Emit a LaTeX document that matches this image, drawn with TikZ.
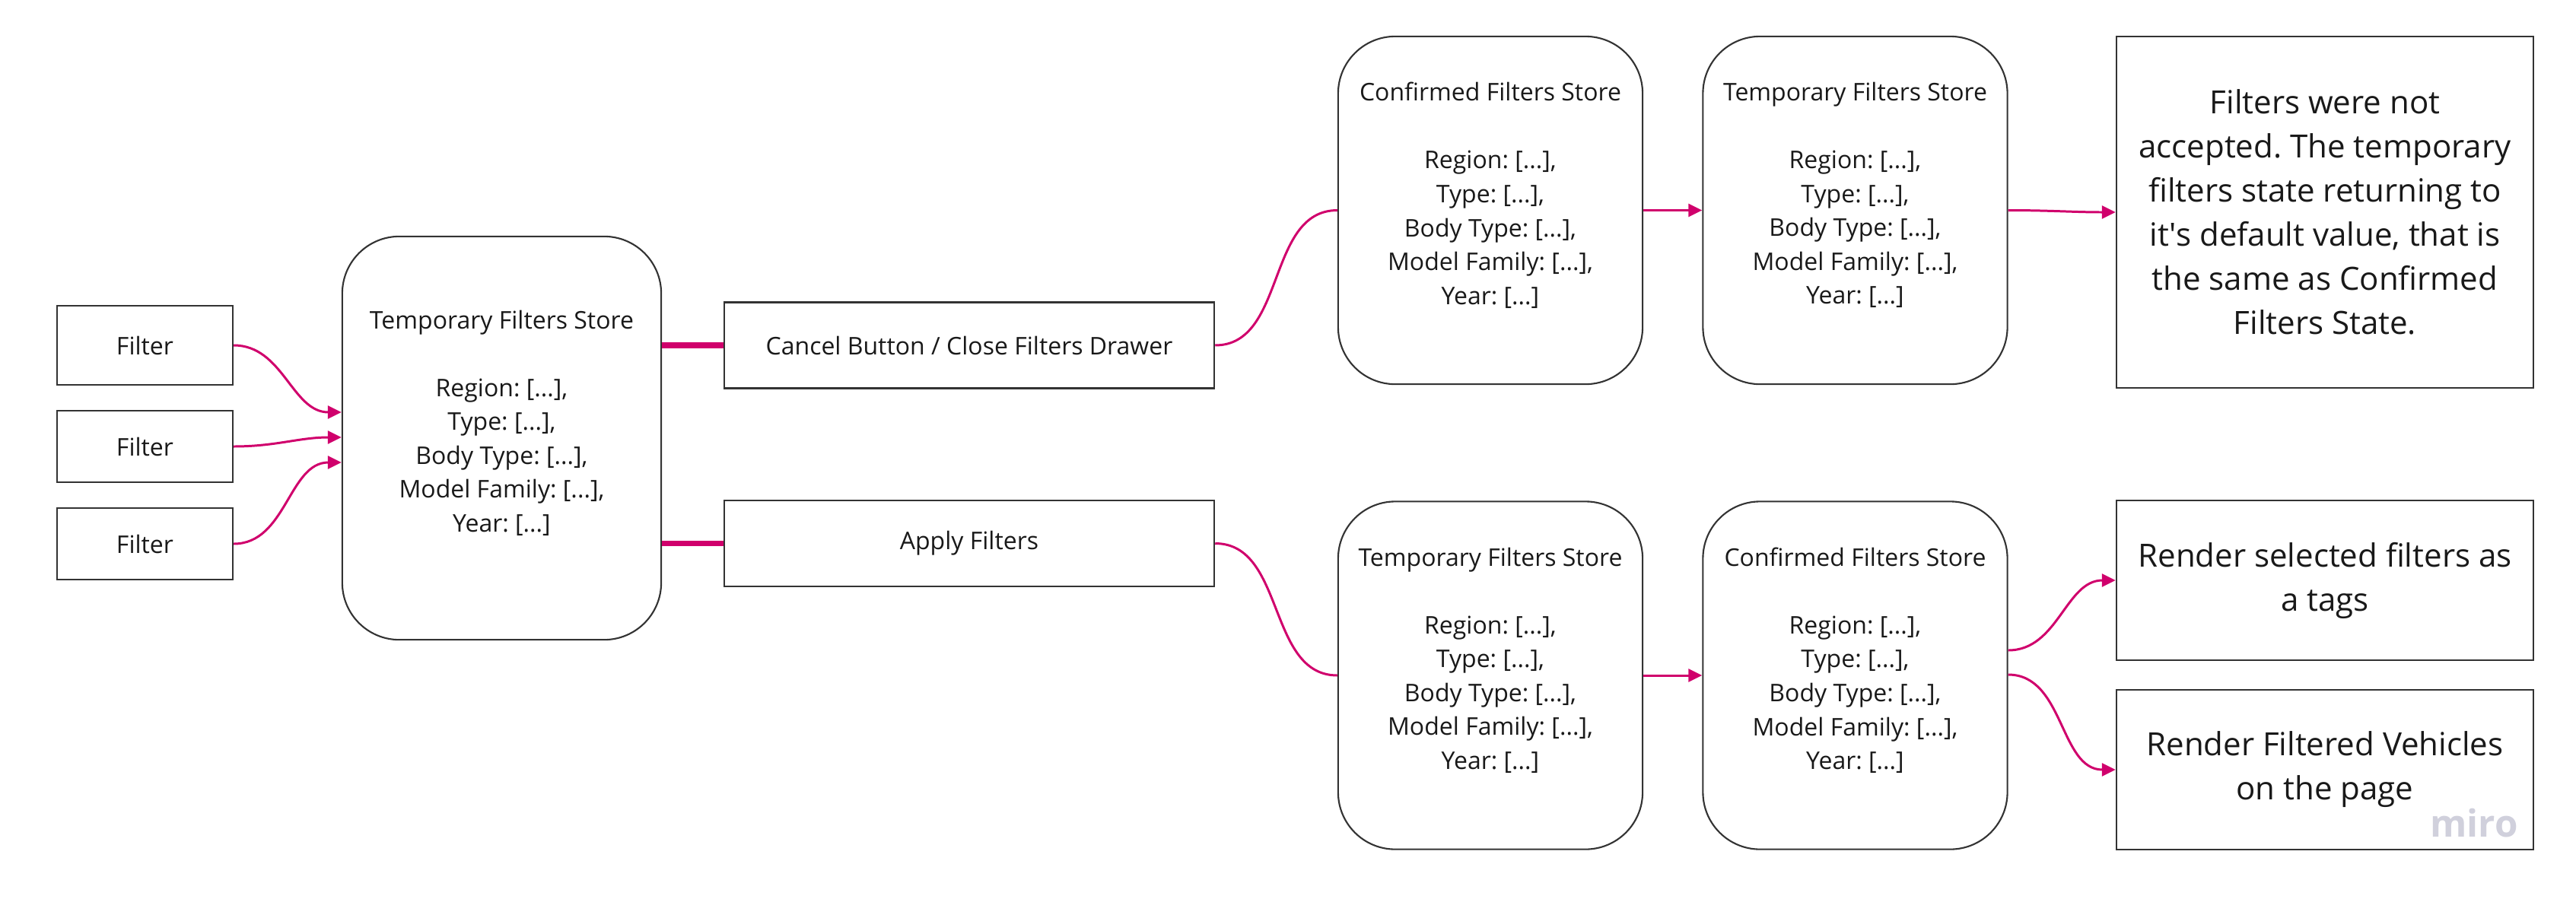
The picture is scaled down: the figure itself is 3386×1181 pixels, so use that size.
\documentclass[tikz,border=0pt]{standalone}
\usepackage{fontspec}
\setmainfont{Open Sans}
\usepackage{xcolor}
\usepackage{tikz}
\usetikzlibrary{shapes,arrows.meta,positioning}
\usetikzlibrary{calc}
\definecolor{miroPink}{RGB}{208,0,108}
\definecolor{miroLine}{RGB}{51,51,51}
\definecolor{miroGray}{RGB}{208,208,220}
\newcommand{\boxfont}{\fontsize{9.1pt}{12.66pt}\selectfont}
\newcommand{\notefont}{\fontsize{11.95pt}{16.5pt}\selectfont}
\newcommand{\storetext}[1]{#1\\~\\Region: [...],\\Type: [...],\\Body Type: [...],\\Model Family: [...],\\Year: [...]\\~}
\frenchspacing

\begin{document}
\begin{tikzpicture}
  [
    x=0.01cm, y=-0.01cm,
    Box/.style={rectangle, draw=miroLine, line width=0.6pt, fill=white, inner sep=0pt, align=center, text=black!90, font=\boxfont},
    Store/.style={Box, rounded corners=0.75cm, minimum width=4cm, minimum height=4.57cm},
    Note/.style={Box, font=\notefont, minimum width=5.48cm},
    Link/.style={draw=miroPink, line width=0.85pt},
    Arrow/.style={Link, -{Triangle[length=0.18cm, width=0.17cm]}},
    Bar/.style={draw=miroPink, line width=2.2pt}
  ]
  \useasboundingbox (0,0) rectangle (3386,1181);
  % Nodes
  \node[Box, minimum width=2.31cm, minimum height=1.04cm] (f1) at (190.5,454) {Filter};
  \node[Box, minimum width=2.31cm, minimum height=0.94cm] (f2) at (190.5,587) {Filter};
  \node[Box, minimum width=2.31cm, minimum height=0.94cm] (f3) at (190.5,715) {Filter};
  \node[Store, minimum width=4.19cm, minimum height=5.30cm] (ts) at (659.5,576) {\storetext{Temporary Filters Store}};
  \node[Box, minimum width=6.44cm, minimum height=1.13cm] (cb) at (1274,454) {Cancel Button / Close Filters Drawer};
  \node[Box, minimum width=6.44cm, minimum height=1.13cm] (ab) at (1274,714.5) {Apply Filters};
  \node[Store] (cs1) at (1959,276.5) {\storetext{Confirmed Filters Store}};
  \node[Store] (ts1) at (2438.5,276.5) {\storetext{Temporary Filters Store}};
  \node[Note, minimum height=4.62cm] (nb) at (3056,279) {Filters were not\\accepted. The temporary\\filters state returning to\\it\textquotesingle s default value, that is\\the same as Confirmed\\Filters State.};
  \node[Store] (ts2) at (1959,888) {\storetext{Temporary Filters Store}};
  \node[Store] (cs2) at (2438.5,888) {\storetext{Confirmed Filters Store}};
  \node[Note, minimum height=2.10cm] (r1) at (3056,763) {Render selected filters as\\a tags};
  \node[Note, minimum height=2.10cm] (r2) at (3056,1012) {Render Filtered Vehicles\\on the page};
  \node[text=miroGray, font=\fontsize{14pt}{16pt}\selectfont\bfseries] (wm) at (3252,1082) {miro};
  % Lines
  \path [Arrow] (f1.east) to[out=0, in=180] ($(ts.west)+(0,-34)$);
  \path [Arrow] (f2.east) to[out=0, in=180] ($(ts.west)+(0,-1)$);
  \path [Arrow] (f3.east) to[out=0, in=180] ($(ts.west)+(0,32)$);
  \path [Bar] (cb.west -| ts.east) -- (cb.west);
  \path [Bar] (ab.west -| ts.east) -- (ab.west);
  \path [Link] (cb.east) to[out=0, in=180] (cs1.west);
  \path [Link] (ab.east) to[out=0, in=180] (ts2.west);
  \path [Arrow] (cs1) -- (ts1);
  \path [Arrow] (ts1.east) to[out=0, in=180] (nb.west);
  \path [Arrow] (ts2) -- (cs2);
  \path [Arrow] ($(cs2.east)+(0,-33)$) to[out=0, in=180] (r1.west);
  \path [Arrow] ($(cs2.east)+(0,-1)$) to[out=0, in=180] (r2.west);
\end{tikzpicture}
\end{document}
